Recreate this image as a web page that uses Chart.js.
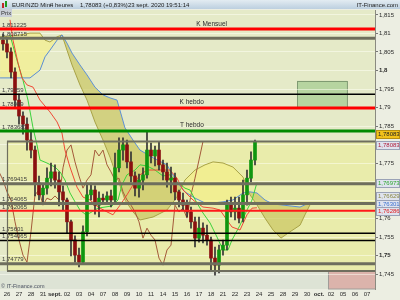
<!DOCTYPE html>
<html><head><meta charset="utf-8">
<script src="https://cdn.jsdelivr.net/npm/chart.js@4"></script>
<style>html,body{margin:0;padding:0;background:#eceee2;}canvas{display:block}</style>
</head><body><canvas id="c" width="400" height="300"></canvas>
<script>
// ---------- DATA ----------
const dayLabels = ['26','27','28','31','sept.','02','03','04','07','08','09','10','11','14','15','16','17','18','21','22','23','24','25','28','29','30','oct.','02','05','06','07'];
const yTicks = [1.745,1.75,1.755,1.76,1.765,1.77,1.775,1.78,1.785,1.79,1.795,1.8,1.805,1.81,1.815];
const boldTicks = [1.75, 1.8];

// 8-hour candles, first one at day index -1/3
const candleStart = -1/3, candleStep = 1/3;
const opens  = [1.8082,1.8072,1.8050,1.7996,1.7920,1.7877,1.7855,1.7812,1.7785,1.7696,1.7664,1.7682,1.7709,1.7726,1.7704,1.7672,1.7650,1.7591,1.7542,1.7501,1.7482,1.7564,1.7664,1.7677,1.7636,1.7655,1.7650,1.7661,1.7650,1.7737,1.7785,1.7799,1.7753,1.7715,1.7682,1.7704,1.7718,1.7785,1.7769,1.7785,1.7745,1.7726,1.7704,1.7709,1.7672,1.7650,1.7636,1.7618,1.7591,1.7547,1.7574,1.7555,1.7542,1.7493,1.7474,1.7515,1.7528,1.7636,1.7618,1.7628,1.7601,1.7664,1.7709,1.7758];
const highs  = [1.8099,1.8088,1.8061,1.8007,1.7936,1.7888,1.7872,1.7839,1.7796,1.7715,1.7693,1.7737,1.7750,1.7745,1.7726,1.7688,1.7655,1.7596,1.7553,1.7520,1.7580,1.7696,1.7696,1.7688,1.7672,1.7666,1.7672,1.7677,1.7777,1.7818,1.7818,1.7812,1.7780,1.7726,1.7720,1.7737,1.7834,1.7804,1.7796,1.7807,1.7758,1.7750,1.7739,1.7723,1.7677,1.7669,1.7650,1.7631,1.7604,1.7604,1.7588,1.7582,1.7550,1.7523,1.7528,1.7542,1.7650,1.7658,1.7658,1.7658,1.7704,1.7731,1.7780,1.7812];
const lows   = [1.8055,1.8034,1.7980,1.7899,1.7855,1.7828,1.7785,1.7764,1.7661,1.7650,1.7645,1.7666,1.7688,1.7682,1.7634,1.7623,1.7561,1.7499,1.7482,1.7469,1.7477,1.7553,1.7650,1.7612,1.7604,1.7639,1.7642,1.7631,1.7642,1.7726,1.7758,1.7737,1.7699,1.7661,1.7658,1.7677,1.7709,1.7750,1.7742,1.7731,1.7704,1.7685,1.7669,1.7650,1.7631,1.7623,1.7604,1.7574,1.7523,1.7536,1.7534,1.7528,1.7461,1.7447,1.7453,1.7501,1.7515,1.7604,1.7596,1.7588,1.7591,1.7636,1.7699,1.7745];
const closes = [1.8072,1.8050,1.7996,1.7920,1.7877,1.7855,1.7812,1.7785,1.7696,1.7664,1.7682,1.7709,1.7726,1.7704,1.7672,1.7650,1.7591,1.7542,1.7501,1.7482,1.7564,1.7664,1.7677,1.7636,1.7655,1.7650,1.7661,1.7650,1.7737,1.7785,1.7799,1.7753,1.7715,1.7682,1.7704,1.7718,1.7785,1.7769,1.7785,1.7745,1.7726,1.7704,1.7709,1.7672,1.7650,1.7636,1.7618,1.7591,1.7547,1.7574,1.7555,1.7542,1.7493,1.7474,1.7515,1.7528,1.7636,1.7618,1.7628,1.7601,1.7664,1.7709,1.7758,1.78083];

// Ichimoku cloud (already projected forward)
const cloudX  = [-0.58,0.25,1.08,1.92,2.75,3.17,3.58,4.17,4.58,5.0,5.42,6.08,6.67,7.33,8.0,8.58,9.17,9.83,10.5,11.08,12.17,13.33,14.17,14.83,15.67,16.5,17.17,18.0,18.83,19.67,20.25,20.83,21.5,22.17,22.83,23.58,24.42,24.83,25.25];
const senkouA = [1.7980,1.7980,1.7980,1.7980,1.8001,1.8037,1.8055,1.8082,1.8096,1.8074,1.8047,1.8015,1.7988,1.7955,1.7934,1.7926,1.7920,1.7845,1.7812,1.7785,1.7764,1.7745,1.7699,1.7672,1.7655,1.7642,1.7642,1.7645,1.7650,1.7669,1.7672,1.7669,1.7650,1.7639,1.7637,1.7634,1.7631,1.7637,1.7642];
const senkouB = [1.8091,1.8093,1.8096,1.8101,1.8101,1.8082,1.8077,1.8091,1.8096,1.8055,1.8015,1.7961,1.7920,1.7861,1.7812,1.7766,1.7712,1.7650,1.7618,1.7596,1.7604,1.7623,1.7658,1.7704,1.7731,1.7745,1.7753,1.7750,1.7739,1.7712,1.7664,1.7637,1.7601,1.7569,1.7547,1.7564,1.7582,1.7610,1.7637];

const redX   = [0.25,0.5,0.92,1.25,1.67,2.17,2.75,3.58,4.17,4.58,4.83,5.25,5.83,6.33,6.92,7.58,8.33,8.83,9.42,10.0,10.5,11.08,11.67,12.17,13.58,14.17,14.67,15.5,16.33,17.17,17.75,18.33,18.75,19.42,20.0,20.42,20.83];
const redY   = [1.8137,1.8082,1.8020,1.7980,1.7961,1.7955,1.7920,1.7888,1.7861,1.7831,1.7785,1.7739,1.7685,1.7658,1.7650,1.7631,1.7618,1.7610,1.7636,1.7664,1.7691,1.7718,1.7731,1.7731,1.7731,1.7709,1.7677,1.7650,1.7631,1.7628,1.7623,1.7596,1.7577,1.7569,1.7610,1.7628,1.7629];
const greenX = [0.25,0.83,1.33,1.75,2.17,2.5,2.75,3.33,4.0,4.42,4.83,5.25,5.67,6.08,6.58,6.92,7.58,8.75,9.25,9.58,10.0,10.67,11.08,11.67,12.33,13.0,13.58,14.17,14.83,15.25,15.83,16.33,16.92,17.5,18.0,18.42,18.75,19.42,20.0,20.42,20.83];
const greenY = [1.8096,1.8028,1.7974,1.7920,1.7845,1.7799,1.7758,1.7750,1.7739,1.7726,1.7704,1.7669,1.7645,1.7623,1.7610,1.7615,1.7628,1.7634,1.7650,1.7691,1.7718,1.7731,1.7745,1.7742,1.7731,1.7715,1.7718,1.7699,1.7682,1.7677,1.7642,1.7615,1.7588,1.7550,1.7515,1.7515,1.7542,1.7582,1.7623,1.7650,1.7697];
const chikouShift = 13/3; // 26 four-hour periods

// Horizontal levels
const levels      = [1.811225,1.808715,1.79359,1.78989,1.783683,1.769415,1.764065,1.762065,1.75601,1.754065,1.74779];
const levelLabels = ['1,811225','1,808715','1,79359','1,78989','1,783683','1,769415','1,764065','1,762065','1,75601','1,754065','1,74779'];
const levelNames  = [['K Mensuel',0,18.33],['K hebdo',3,16.4],['T hebdo',4,16.4]];

// Zones
const zoneRange   = [0, 1.7458, 1.78083];     // start day, bottom, top
const pinkStart   = 26.75;
const greenBoxX   = [24.17, 28.33];
const greenBoxY   = [1.7902, 1.7972];

const priceTagTexts  = ['1,78083','1,78083','1,76973','1,76629','1,76301','1,76286'];
const priceTagValues = [1.7828,1.7799,1.7696,1.7661,1.7639,1.7620];

// ---------- STYLES ----------
const levelColors = ['#ff0000','#6e6e5e','#000000','#ff0000','#008a00','#6e6e5e','#6e6e5e','#ff1a1a','#000000','#000000','#6e6e5e'];
const levelWidths = [3,3,1.5,3,3,3,3,2,1.5,1.5,3];
const tagStyles = [
  {bg:'#f3c21c',bd:'#b89010',fg:'#222'},
  {bg:'#dfe3ee',bd:'#9aa2b6',fg:'#b0203c'},
  {bg:'#dfe3ee',bd:'#9aa2b6',fg:'#2ea82e'},
  {bg:'#dfe3ee',bd:'#9aa2b6',fg:'#8a8840'},
  {bg:'#dfe3ee',bd:'#9aa2b6',fg:'#3a70d0'},
  {bg:'#dfe3ee',bd:'#9aa2b6',fg:'#e02020'}
];
const FONT = 'Liberation Sans, Arial, sans-serif';
const xMin = -0.583, xMax = 30.667, yMin = 1.74095, yMax = 1.81635;

// ---------- DATASETS ----------
const candleT = closes.map((_, i) => candleStart + i * candleStep);
const datasets = [];
levels.forEach((v, i) => datasets.push({
  type:'line', data:[{x:xMin,y:v},{x:xMax,y:v}], borderColor:levelColors[i], borderWidth:levelWidths[i],
  pointRadius:0, fill:false, order:0
}));
datasets.push({type:'bar', data:candleT.map((t,i)=>({x:t,y:[opens[i],closes[i]]})),
  backgroundColor: closes.map((c,i)=> c>=opens[i] ? '#0f960f' : '#8a1010'),
  barThickness:3, minBarLength:1, grouped:false, order:1});
datasets.push({type:'bar', data:candleT.map((t,i)=>({x:t,y:[lows[i],highs[i]]})),
  backgroundColor:'#333333', barThickness:1, grouped:false, order:1});
datasets.push({type:'line', data:redX.map((x,i)=>({x,y:redY[i]})), borderColor:'#f04a36', borderWidth:1, pointRadius:0, fill:false, order:2});
datasets.push({type:'line', data:greenX.map((x,i)=>({x,y:greenY[i]})), borderColor:'#3cd23c', borderWidth:1, pointRadius:0, fill:false, order:2});
datasets.push({type:'line', data:closes.map((c,i)=>({x:candleT[i]-chikouShift,y:c})), borderColor:'#a45a3a', borderWidth:1, pointRadius:0, fill:false, order:2});
const idxA = datasets.length;
datasets.push({type:'line', data:cloudX.map((x,i)=>({x,y:senkouA[i]})), borderColor:'#5b8fd6', borderWidth:1, pointRadius:0, fill:false, order:3});
datasets.push({type:'line', data:cloudX.map((x,i)=>({x,y:senkouB[i]})), borderColor:'#a9a347', borderWidth:1, pointRadius:0, order:3,
  fill:{target:idxA, above:'rgba(246,240,130,0.6)', below:'rgba(200,195,90,0.65)'}});

// ---------- PLUGINS ----------
const bgPlugin = {
  id:'bg',
  beforeDraw(chart){
    const {ctx, chartArea:a, scales:{x,y}} = chart;
    ctx.save();
    ctx.fillStyle = '#eceee2'; ctx.fillRect(0,0,chart.width,chart.height);
    ctx.fillStyle = '#e5eac8'; ctx.fillRect(a.left,a.top,a.right-a.left,a.bottom-a.top);
    const zx = x.getPixelForValue(zoneRange[0]);
    const zb = y.getPixelForValue(zoneRange[1]), zt = y.getPixelForValue(zoneRange[2]);
    ctx.fillStyle = '#e9ecab'; ctx.fillRect(zx,zt,a.right-zx,zb-zt);
    const px = x.getPixelForValue(pinkStart);
    ctx.fillStyle = '#dde3d5'; ctx.fillRect(a.left,zb,px-a.left,a.bottom-zb);
    ctx.fillStyle = '#dbb3ab'; ctx.fillRect(px,zb,a.right-px,a.bottom-zb);
    ctx.strokeStyle = '#a09c98'; ctx.lineWidth = 1; ctx.strokeRect(px+0.5,zb,a.right-px,a.bottom-zb);
    const gx0 = x.getPixelForValue(greenBoxX[0]), gx1 = x.getPixelForValue(greenBoxX[1]);
    const gy0 = y.getPixelForValue(greenBoxY[1]), gy1 = y.getPixelForValue(greenBoxY[0]);
    ctx.fillStyle = '#b6d4a0'; ctx.fillRect(gx0,gy0,gx1-gx0,gy1-gy0);
    ctx.strokeStyle = '#7f9a72'; ctx.strokeRect(Math.round(gx0)+0.5,Math.round(gy0)+0.5,gx1-gx0,gy1-gy0);
    ctx.restore();
  },
  afterDatasetsDraw(chart){
    const {ctx, chartArea:a, scales:{x,y}} = chart;
    ctx.save();
    const zx = x.getPixelForValue(zoneRange[0]);
    const zb = y.getPixelForValue(zoneRange[1]), zt = y.getPixelForValue(zoneRange[2]);
    ctx.strokeStyle = '#6e6e5e'; ctx.lineWidth = 2;
    ctx.beginPath(); ctx.moveTo(zx,zt); ctx.lineTo(a.right,zt); ctx.moveTo(zx,zb); ctx.lineTo(a.right,zb); ctx.stroke();
    ctx.lineWidth = 1.2; ctx.beginPath(); ctx.moveTo(zx+0.5,zt); ctx.lineTo(zx+0.5,zb); ctx.stroke();
    // level labels
    ctx.font = '6px ' + FONT; ctx.fillStyle = '#3a3a3a'; ctx.textBaseline = 'bottom'; ctx.textAlign = 'left';
    levels.forEach((v,i)=>{ ctx.fillText(levelLabels[i], 2, y.getPixelForValue(v) - 1); });
    ctx.font = '6.5px ' + FONT; ctx.textAlign = 'right'; ctx.fillStyle = '#2a2a2a';
    levelNames.forEach(([t,li,at])=>{ ctx.fillText(t, x.getPixelForValue(at), y.getPixelForValue(levels[li]) - 2); });
    ctx.restore();
  },
  afterDraw(chart){
    const {ctx, chartArea:a, scales:{y}} = chart;
    ctx.save();
    // header
    const g = ctx.createLinearGradient(0,0,0,9);
    g.addColorStop(0,'#e3ecf2'); g.addColorStop(1,'#bccfdf');
    ctx.fillStyle = g; ctx.fillRect(0,0,chart.width,9);
    ctx.fillStyle = '#c0262a'; ctx.fillRect(2,3,2,5);
    ctx.fillStyle = '#1f9a1f'; ctx.fillRect(5,1,2,6);
    ctx.font = '6px ' + FONT; ctx.fillStyle = '#1a1a1a'; ctx.textBaseline = 'middle'; ctx.textAlign = 'left';
    ctx.fillText('EUR/NZD Mini', 12, 5);
    ctx.fillText('4 heures', 50, 5);
    ctx.fillText('1,78083 (+0,83%)', 80, 5);
    ctx.fillText('23 sept. 2020 19:51:14', 128, 5);
    ctx.textAlign = 'right'; ctx.fillText('IT-Finance.com', 398, 5);
    // Prix tag
    ctx.fillStyle = '#c9ced6'; ctx.fillRect(0,9,12,8);
    ctx.fillStyle = '#333'; ctx.textAlign = 'left'; ctx.fillText('Prix', 1, 13);
    // copyright
    ctx.fillStyle = '#4a5060'; ctx.font = '5.5px ' + FONT; ctx.fillText('\u00a9 IT-Finance.com', 1, 286);
    // right price tags
    ctx.font = '6px ' + FONT;
    priceTagTexts.forEach((t,i)=>{
      const cy = Math.round(y.getPixelForValue(priceTagValues[i]));
      const s = tagStyles[i];
      ctx.fillStyle = s.bg; ctx.fillRect(376, cy-4, 23, 8);
      ctx.strokeStyle = s.bd; ctx.lineWidth = 1; ctx.strokeRect(376.5, cy-3.5, 23, 8);
      ctx.fillStyle = s.fg; ctx.textBaseline = 'middle'; ctx.fillText(t, 378, cy+0.5);
    });
    ctx.restore();
  }
};

const fmt = v => String(+v.toFixed(3)).replace('.', ',');

new Chart(document.getElementById('c'), {
  type:'line',
  data:{datasets},
  options:{
    responsive:false, animation:false, devicePixelRatio:1,
    layout:{padding:{top:10,left:0,right:0,bottom:0}},
    plugins:{legend:{display:false}, tooltip:{enabled:false}},
    scales:{
      x:{type:'linear', min:xMin, max:xMax, offset:false, position:'bottom',
        grid:{display:false, drawTicks:false}, border:{display:false},
        afterBuildTicks:s=>{ s.ticks = dayLabels.map((_,i)=>({value:i})); },
        afterFit:s=>{ s.height = 11; },
        ticks:{autoSkip:false, maxRotation:0, padding:2, color:'#2a2a2a',
          font:ctx=>({size:6, family:FONT, weight:(dayLabels[ctx.tick && ctx.tick.value]||'').endsWith('.')?'bold':'normal'}),
          callback:v=>dayLabels[v] ?? ''}
      },
      y:{type:'linear', position:'right', min:yMin, max:yMax,
        grid:{color:'rgba(255,255,245,0.5)', tickLength:3, tickColor:'#777'},
        border:{display:true, color:'#8a8a80'},
        afterBuildTicks:s=>{ s.ticks = yTicks.map(v=>({value:v})); },
        afterFit:s=>{ s.width = 25; },
        ticks:{padding:1, color:'#2a2a2a',
          font:ctx=>({size:6, family:FONT, weight: boldTicks.some(b=>ctx.tick && Math.abs(b-ctx.tick.value)<1e-6)?'bold':'normal'}),
          callback:v=>fmt(v)}
      }
    }
  },
  plugins:[bgPlugin]
});
</script>
</body></html>
